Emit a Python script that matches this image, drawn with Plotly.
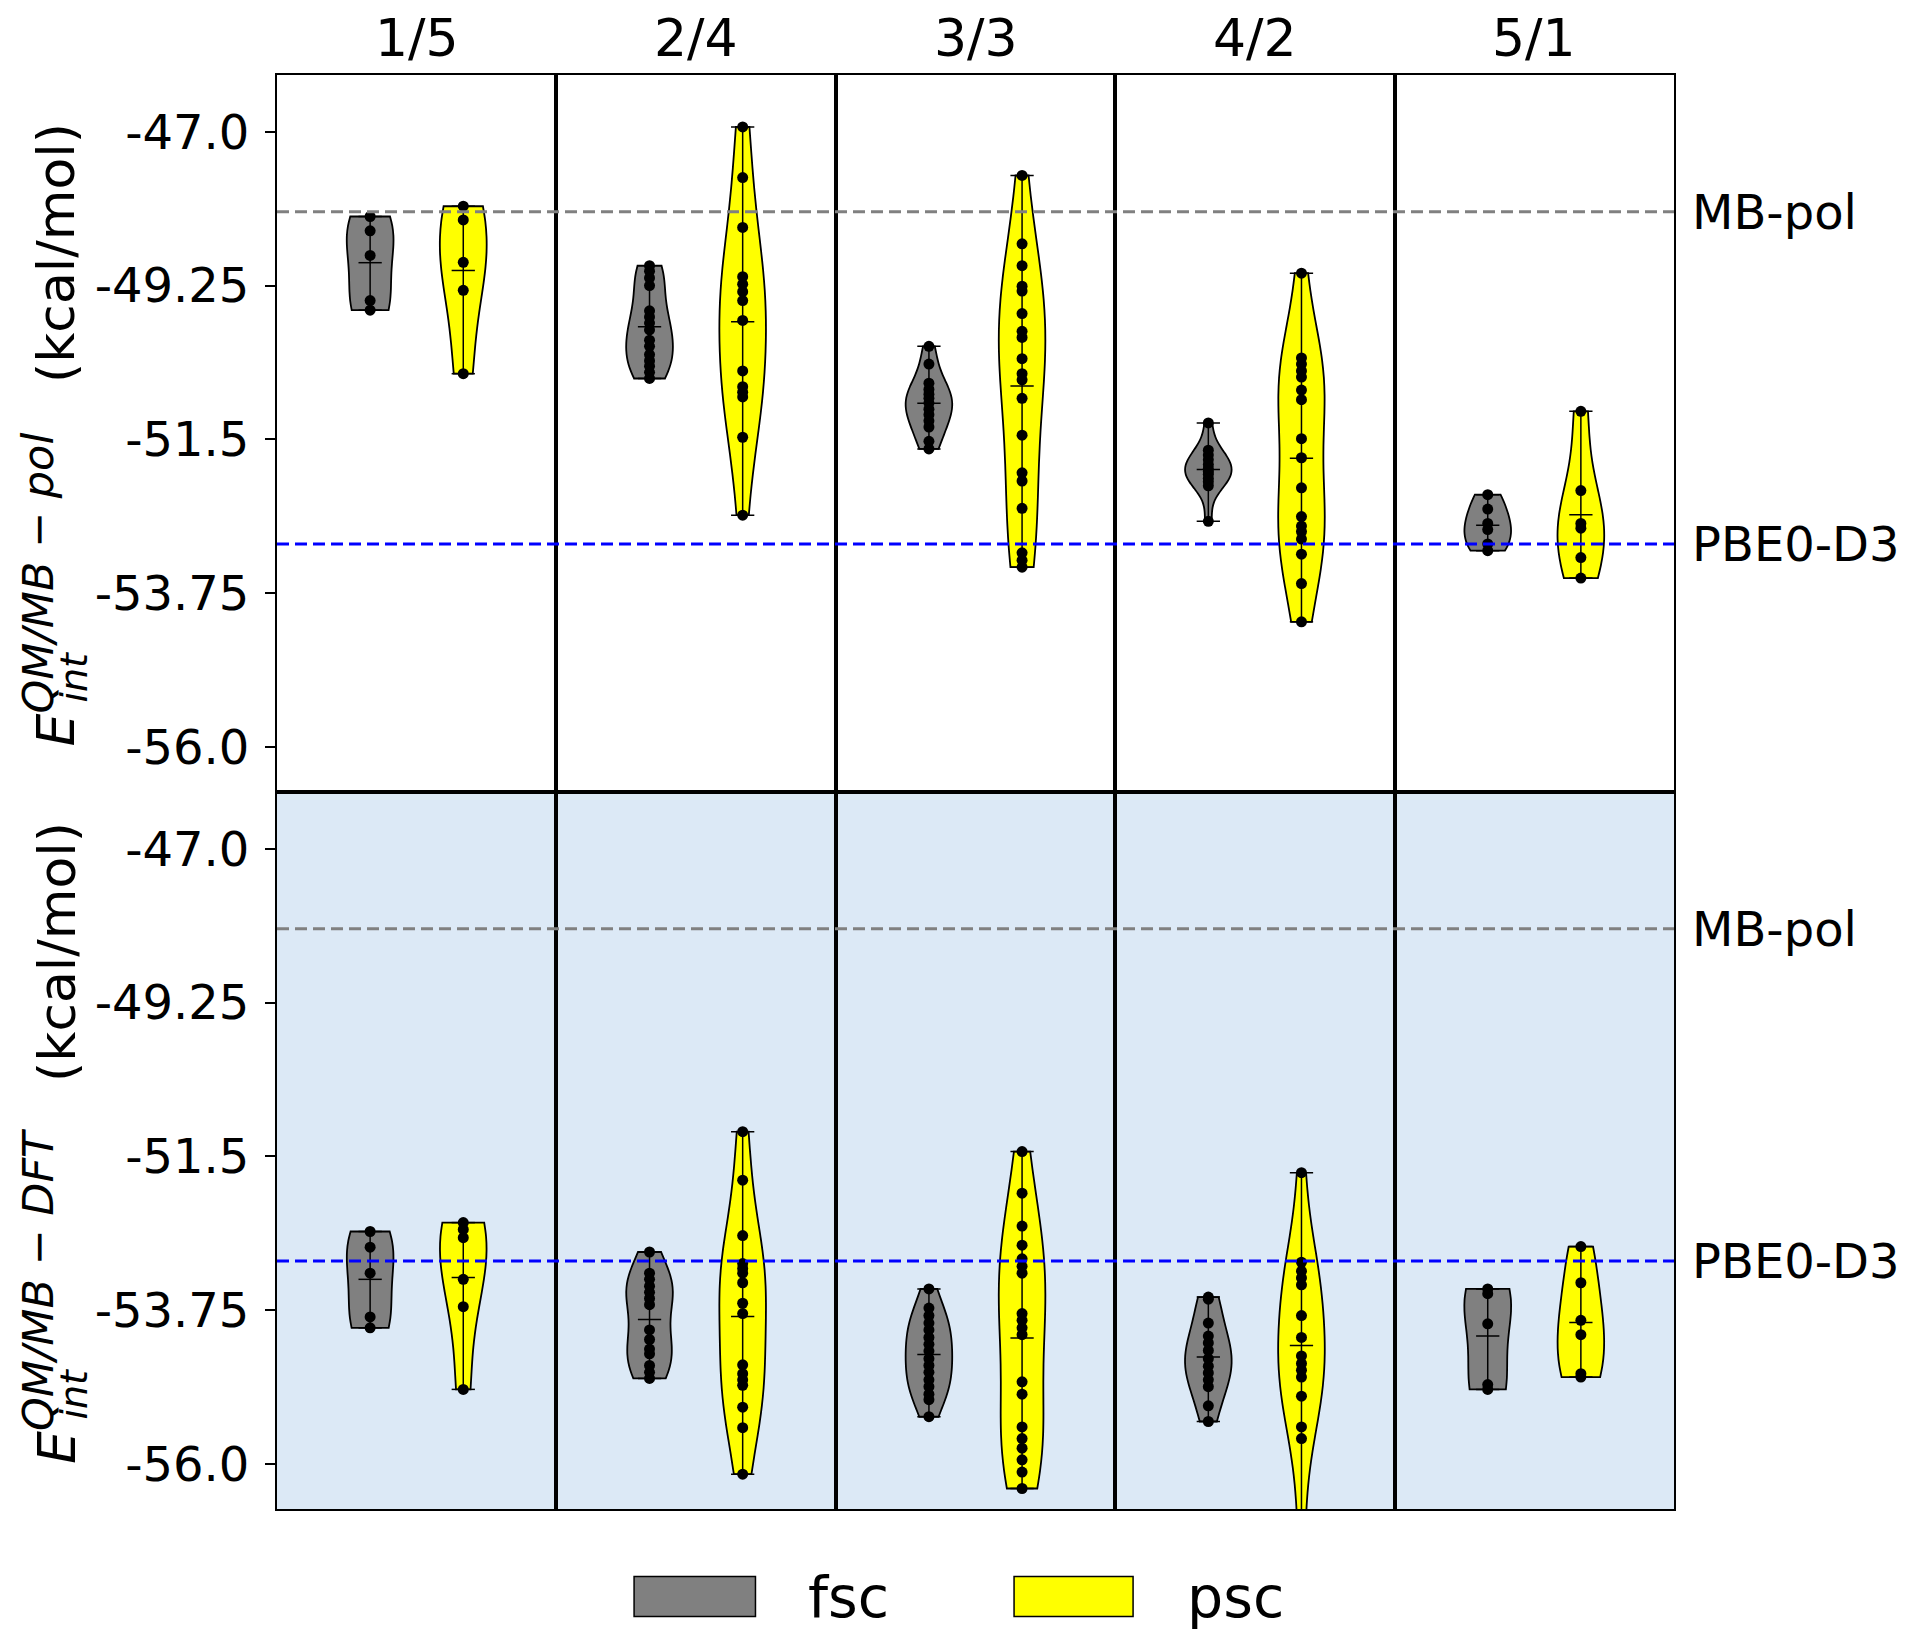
import numpy as np
import plotly.graph_objects as go
from plotly.subplots import make_subplots

configs = ["1/5", "2/4", "3/3", "4/2", "5/1"]
ytick_vals = [-47.0, -49.25, -51.5, -53.75, -56.0]
ytick_text = ["-47.0", "-49.25", "-51.5", "-53.75", "-56.0"]
y_range = [-56.66, -46.17]
mbpol_ref = -48.17
pbe0_ref = -53.03

# top row: E_int QM/MB-pol
mbpol_fsc = [
    [-48.24, -48.45, -48.81, -49.47, -49.61],
    [-48.96, -49.04, -49.14, -49.25, -49.62, -49.71, -49.80, -49.90, -50.05, -50.14, -50.26, -50.35, -50.43, -50.52, -50.61],
    [-50.14, -50.40, -50.68, -50.77, -50.84, -50.90, -50.97, -51.06, -51.14, -51.23, -51.32, -51.53, -51.64],
    [-51.26, -51.66, -51.73, -51.80, -51.87, -51.93, -51.97, -52.01, -52.07, -52.12, -52.18, -52.70],
    [-52.31, -52.52, -52.73, -52.82, -53.03, -53.13],
]
mbpol_psc = [
    [-48.09, -48.29, -48.91, -49.32, -50.54],
    [-46.93, -47.67, -48.40, -49.12, -49.23, -49.34, -49.47, -49.76, -50.50, -50.73, -50.81, -50.88, -51.47, -52.61],
    [-47.64, -48.64, -48.96, -49.26, -49.33, -49.66, -49.92, -50.01, -50.32, -50.54, -50.63, -50.90, -51.44, -51.99, -52.11, -52.51, -53.16, -53.27, -53.37],
    [-49.07, -50.31, -50.40, -50.50, -50.59, -50.78, -50.92, -51.49, -51.77, -52.21, -52.63, -52.77, -52.85, -52.96, -53.18, -53.61, -54.17],
    [-51.09, -52.25, -52.73, -52.80, -53.23, -53.53],
]

# bottom row: E_int QM/MB-DFT
dft_fsc = [
    [-52.60, -52.83, -53.21, -53.85, -54.01],
    [-52.90, -53.21, -53.30, -53.40, -53.49, -53.58, -53.67, -54.04, -54.18, -54.32, -54.39, -54.56, -54.66, -54.75],
    [-53.44, -53.72, -53.83, -53.94, -54.04, -54.15, -54.25, -54.35, -54.46, -54.56, -54.66, -54.77, -54.87, -54.98, -55.06, -55.31],
    [-53.56, -53.59, -53.94, -54.13, -54.23, -54.34, -54.46, -54.57, -54.67, -54.77, -54.87, -55.15, -55.38],
    [-53.44, -53.51, -53.95, -54.84, -54.91],
]
dft_psc = [
    [-52.47, -52.57, -52.69, -53.30, -53.70, -54.91],
    [-51.14, -51.85, -52.66, -53.07, -53.14, -53.21, -53.35, -53.65, -53.80, -54.55, -54.68, -54.77, -54.85, -55.17, -55.47, -56.15],
    [-51.43, -52.04, -52.52, -52.80, -53.00, -53.11, -53.21, -53.80, -53.90, -54.01, -54.11, -54.80, -54.98, -55.46, -55.63, -55.77, -55.94, -56.12, -56.36],
    [-51.74, -53.05, -53.18, -53.28, -53.38, -53.83, -54.15, -54.42, -54.53, -54.63, -54.73, -55.01, -55.46, -55.63, -57.02],
    [-52.82, -53.35, -53.90, -54.11, -54.68, -54.73],
]

FONT = "DejaVu Sans"

fig = make_subplots(rows=2, cols=5, horizontal_spacing=0, vertical_spacing=0)


def add_violin(vals, pos, color, row, col):
    vals = np.array(vals)
    # scott's rule, like matplotlib's violinplot
    bw = np.std(vals, ddof=1) * len(vals) ** (-1 / 5)
    fig.add_trace(go.Violin(x=[pos] * len(vals), y=vals, width=0.5, scalemode="width",
                            spanmode="hard", bandwidth=bw, fillcolor=color, opacity=1,
                            line=dict(color="black", width=1.8), points=False,
                            hoverinfo="skip"), row=row, col=col)
    lo, hi, mu = vals.min(), vals.max(), vals.mean()
    h = 0.125
    fig.add_trace(go.Scatter(x=[pos, pos, None, pos - h, pos + h, None, pos - h, pos + h, None, pos - h, pos + h],
                             y=[lo, hi, None, lo, lo, None, hi, hi, None, mu, mu],
                             mode="lines", line=dict(color="black", width=1.5),
                             hoverinfo="skip"), row=row, col=col)
    fig.add_trace(go.Scatter(x=[pos] * len(vals), y=vals, mode="markers",
                             marker=dict(color="black", size=11), hoverinfo="skip"),
                  row=row, col=col)


for c in range(5):
    add_violin(mbpol_fsc[c], 1, "#808080", 1, c + 1)
    add_violin(mbpol_psc[c], 2, "#ffff00", 1, c + 1)
    add_violin(dft_fsc[c], 1, "#808080", 2, c + 1)
    add_violin(dft_psc[c], 2, "#ffff00", 2, c + 1)

for r in (1, 2):
    for c in range(1, 6):
        fig.update_xaxes(range=[0, 3], showline=True, mirror=True, linecolor="black", linewidth=2,
                         showticklabels=False, ticks="", showgrid=False, zeroline=False, row=r, col=c)
        fig.update_yaxes(range=y_range, showline=True, mirror=True, linecolor="black", linewidth=2,
                         showgrid=False, zeroline=False, tickvals=ytick_vals, ticktext=ytick_text,
                         ticks="outside" if c == 1 else "", ticklen=10, tickwidth=2, tickcolor="black",
                         ticklabelstandoff=6,
                         showticklabels=(c == 1), tickfont=dict(size=48, family=FONT, color="black"),
                         row=r, col=c)

shapes = [dict(type="rect", xref="paper", yref="paper", x0=0, x1=1, y0=0, y1=0.5,
               fillcolor="#dce9f6", line=dict(width=0), layer="below")]
for yref in ("y", "y6"):
    shapes.append(dict(type="line", xref="paper", yref=yref, x0=0, x1=1, y0=mbpol_ref, y1=mbpol_ref,
                       line=dict(color="#808080", width=3, dash="12px,6px"), layer="above"))
    shapes.append(dict(type="line", xref="paper", yref=yref, x0=0, x1=1, y0=pbe0_ref, y1=pbe0_ref,
                       line=dict(color="#0000ff", width=3, dash="12px,6px"), layer="above"))
# legend boxes
shapes.append(dict(type="rect", xref="paper", yref="paper", x0=0.2556, x1=0.3425, y0=-0.0749, y1=-0.047,
                   fillcolor="#808080", line=dict(color="black", width=1.5)))
shapes.append(dict(type="rect", xref="paper", yref="paper", x0=0.5276, x1=0.6128, y0=-0.0749, y1=-0.047,
                   fillcolor="#ffff00", line=dict(color="black", width=1.5)))

annotations = []
for c, name in enumerate(configs):
    annotations.append(dict(text=name, xref="paper", yref="paper", x=(c + 0.5) / 5, y=1,
                            xanchor="center", yanchor="middle", yshift=37, showarrow=False,
                            font=dict(size=52, family=FONT, color="black")))
for yref in ("y", "y6"):
    annotations.append(dict(text="MB-pol", xref="paper", yref=yref, x=1, y=mbpol_ref, xanchor="left",
                            xshift=16, yanchor="middle", showarrow=False,
                            font=dict(size=48, family=FONT, color="black")))
    annotations.append(dict(text="PBE0-D3", xref="paper", yref=yref, x=1, y=pbe0_ref, xanchor="left",
                            xshift=16, yanchor="middle", showarrow=False,
                            font=dict(size=48, family=FONT, color="black")))

# y labels: E with stacked sub/superscript, built from two pieces
ylabels = [("QM/MB − pol", 0.530), ("QM/MB − DFT", 0.030)]
for sup, y0 in ylabels:
    annotations.append(dict(text="<i>E</i><sup><span style='font-size:43px'><i>" + sup + "</i></span></sup>   (kcal/mol)",
                            xref="paper", yref="paper", x=0, y=y0, xanchor="center", yanchor="bottom",
                            xshift=-227, textangle=-90, showarrow=False,
                            font=dict(size=52, family=FONT, color="black")))
    annotations.append(dict(text="<i>int</i>", xref="paper", yref="paper", x=0, y=y0 + 0.031,
                            xanchor="center", yanchor="bottom", xshift=-203, textangle=-90,
                            showarrow=False, font=dict(size=38, family=FONT, color="black")))

annotations.append(dict(text="fsc", xref="paper", yref="paper", x=0.3787, y=-0.0616, xanchor="left",
                        yanchor="middle", showarrow=False, font=dict(size=57, family=FONT, color="black")))
annotations.append(dict(text="psc", xref="paper", yref="paper", x=0.650, y=-0.0616, xanchor="left",
                        yanchor="middle", showarrow=False, font=dict(size=57, family=FONT, color="black")))

fig.update_layout(width=1920, height=1644, margin=dict(l=269, r=254, t=67, b=143),
                  plot_bgcolor="white", paper_bgcolor="white", violinmode="overlay",
                  showlegend=False, shapes=shapes, annotations=annotations,
                  font=dict(family=FONT, color="black"))

fig.write_html("out.html")
